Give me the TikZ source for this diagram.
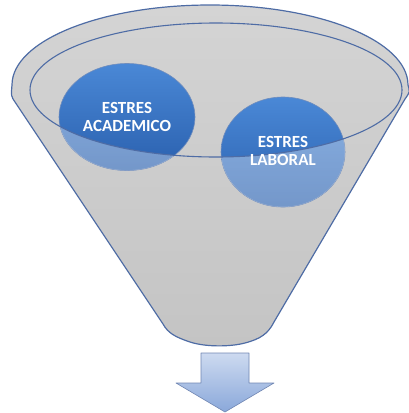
\documentclass[tikz,border=0pt]{standalone}
\usepackage{fontspec}
\newfontfamily\calibri{Carlito}
\usepackage{tikz}
\usetikzlibrary{shapes.geometric}

\definecolor{funnelline}{RGB}{78,108,165}
\definecolor{funneltop}{RGB}{212,212,212}
\definecolor{funnelbot}{RGB}{196,196,196}
\definecolor{bubbletop}{RGB}{74,136,214}
\definecolor{bubblebot}{RGB}{42,96,174}
\definecolor{bubbleedge}{RGB}{50,92,160}
\definecolor{arrowtop}{RGB}{205,218,240}
\definecolor{arrowbot}{RGB}{138,168,218}
\definecolor{arrowedge}{RGB}{112,134,178}

\begin{document}
\begin{tikzpicture}[
  x=1pt, y=-1pt,
  funnel/.style={draw=funnelline, line width=1.2pt,
    top color=funneltop, bottom color=funnelbot},
  rim/.style={draw=funnelline, line width=1.1pt},
  bubble/.style={ellipse, inner sep=0pt, draw=bubbleedge!70, line width=0.6pt,
    top color=bubbletop, bottom color=bubblebot},
  veil/.style={fill=white, opacity=0.35, even odd rule},
  caption/.style={align=center, text=white,
    font=\calibri\bfseries\fontsize{17}{17.5}\selectfont},
  downarrow/.style={draw=arrowedge, line width=0.6pt, line join=round,
    top color=arrowtop, bottom color=arrowbot}
]
  \useasboundingbox (0,0) rectangle (409,413);

  % === Funnel body ===
  \draw[funnel] (12,85)
    arc[start angle=180, end angle=360, x radius=198, y radius=80]
    .. controls (410,92) .. (405,99) -- (274,322)
    .. controls (268,334) and (260,339) .. (245,343)
    .. controls (230,347) and (205,347) .. (190,342)
    .. controls (175,337) and (168,333) .. (163,324)
    -- (15,102) .. controls (11,96) .. cycle;

  % === Bubbles ===
  \node[bubble, minimum width=136pt, minimum height=107pt] (acad) at (127,117) {};
  \node[bubble, minimum width=124pt, minimum height=110pt] (lab) at (283,152) {};

  % Lower parts seen through the funnel wall
  \begin{scope}
    \clip (acad.center) ellipse [x radius=68, y radius=53.5];
    \fill[veil] (0,0) rectangle (409,413) (216,90) ellipse [x radius=186, y radius=67];
  \end{scope}
  \begin{scope}
    \clip (lab.center) ellipse [x radius=62, y radius=55];
    \fill[veil] (0,0) rectangle (409,413) (216,90) ellipse [x radius=186, y radius=67];
  \end{scope}

  % === Inner rim ===
  \draw[rim] (216,90) ellipse [x radius=186, y radius=67];

  % === Labels ===
  \node[caption] (acad-text) at (127,117) {ESTRES\\ACADEMICO};
  \node[caption] (lab-text) at (283,151) {ESTRES\\LABORAL};

  % === Down arrow ===
  \draw[downarrow] (201,353) -- (249,353) -- (249,383) -- (274,383)
    -- (225,412) -- (176,383) -- (201,383) -- cycle;
\end{tikzpicture}
\end{document}
